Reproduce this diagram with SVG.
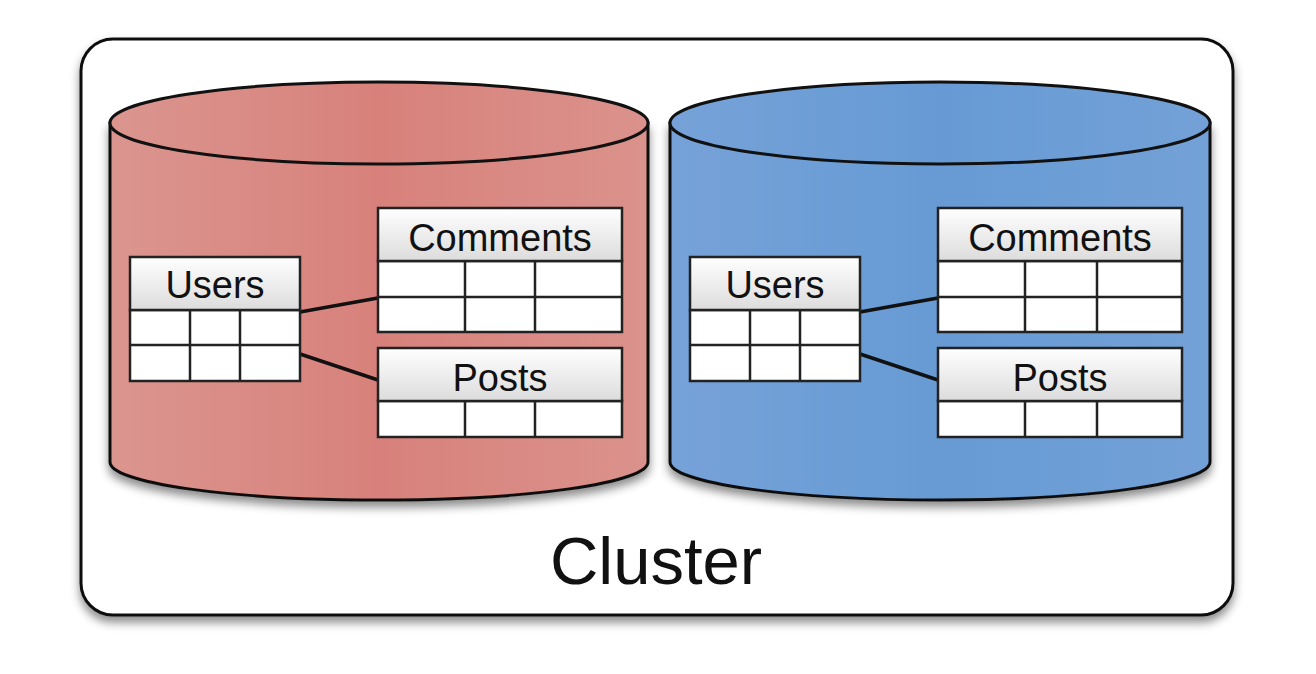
<svg xmlns="http://www.w3.org/2000/svg" width="1316" height="674" viewBox="0 0 1316 674">
<style>
.lbl{font-family:"Liberation Sans",Arial,sans-serif;fill:#111;text-anchor:middle}
.tbl{fill:#fff;stroke:#222;stroke-width:2.5}
.hdr{fill:url(#hg);stroke:#222;stroke-width:2.5}
.ln{stroke:#222;stroke-width:2.5;fill:none}
.cyl{stroke:#111;stroke-width:3}
.conn{stroke:#111;stroke-width:3.5;fill:none}
</style>
<defs>
<linearGradient id="hg" x1="0" y1="0" x2="0" y2="1"><stop offset="0" stop-color="#ffffff"/><stop offset="1" stop-color="#dcdcdc"/></linearGradient>
<linearGradient id="rg" x1="0" y1="0" x2="1" y2="0"><stop offset="0" stop-color="#db958f"/><stop offset="0.5" stop-color="#d8817b"/><stop offset="1" stop-color="#db928c"/></linearGradient>
<linearGradient id="bg" x1="0" y1="0" x2="1" y2="0"><stop offset="0" stop-color="#76a2d8"/><stop offset="0.5" stop-color="#679ad4"/><stop offset="1" stop-color="#73a1d7"/></linearGradient>
<filter id="sh" x="-10%" y="-10%" width="120%" height="130%"><feDropShadow dx="0" dy="6" stdDeviation="5" flood-color="#000" flood-opacity="0.45"/></filter>
</defs>
<g id="cluster">
<rect x="81" y="39" width="1152" height="576" rx="32" fill="#fff" stroke="#111" stroke-width="3" filter="url(#sh)"/>
<text class="lbl" x="656" y="584" font-size="67">Cluster</text>
</g>
<g id="db-red">
<path class="cyl" fill="url(#rg)" filter="url(#sh)" d="M110,123 L110,462 A269,38 0 0 0 648,462 L648,123 Z"/>
<ellipse class="cyl" fill="url(#rg)" cx="379" cy="123" rx="269" ry="41"/>
</g>
<g id="db-blue">
<path class="cyl" fill="url(#bg)" filter="url(#sh)" d="M670,123 L670,462 A270,38 0 0 0 1210,462 L1210,123 Z"/>
<ellipse class="cyl" fill="url(#bg)" cx="940" cy="123" rx="270" ry="41"/>
</g>
<g id="connectors">
<path class="conn" d="M300,312 L378,298"/>
<path class="conn" d="M300,354 L378,380"/>
<path class="conn" d="M860,312 L938,298"/>
<path class="conn" d="M860,354 L938,380"/>
</g>
<g id="red-users">
<rect class="tbl" x="130" y="310" width="170" height="71"/>
<rect class="hdr" x="130" y="257" width="170" height="53"/>
<path class="ln" d="M130,345H300M190,310V381M240,310V381"/>
<text class="lbl" x="215" y="298" font-size="38">Users</text>
</g>
<g id="red-comments">
<rect class="tbl" x="378" y="261" width="244" height="71"/>
<rect class="hdr" x="378" y="208" width="244" height="53"/>
<path class="ln" d="M378,297H622M465,261V332M535,261V332"/>
<text class="lbl" x="500" y="251" font-size="38">Comments</text>
</g>
<g id="red-posts">
<rect class="tbl" x="378" y="401" width="244" height="36"/>
<rect class="hdr" x="378" y="348" width="244" height="53"/>
<path class="ln" d="M465,401V437M535,401V437"/>
<text class="lbl" x="500" y="391" font-size="38">Posts</text>
</g>
<g id="blue-users">
<rect class="tbl" x="690" y="310" width="170" height="71"/>
<rect class="hdr" x="690" y="257" width="170" height="53"/>
<path class="ln" d="M690,345H860M750,310V381M800,310V381"/>
<text class="lbl" x="775" y="298" font-size="38">Users</text>
</g>
<g id="blue-comments">
<rect class="tbl" x="938" y="261" width="244" height="71"/>
<rect class="hdr" x="938" y="208" width="244" height="53"/>
<path class="ln" d="M938,297H1182M1025,261V332M1097,261V332"/>
<text class="lbl" x="1060" y="251" font-size="38">Comments</text>
</g>
<g id="blue-posts">
<rect class="tbl" x="938" y="401" width="244" height="36"/>
<rect class="hdr" x="938" y="348" width="244" height="53"/>
<path class="ln" d="M1025,401V437M1097,401V437"/>
<text class="lbl" x="1060" y="391" font-size="38">Posts</text>
</g>
</svg>
